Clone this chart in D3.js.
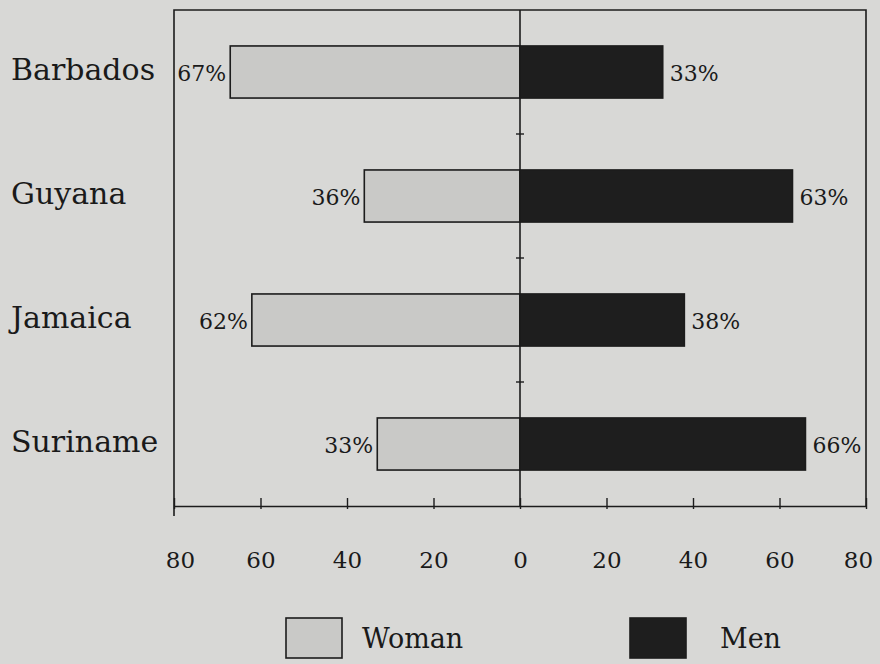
<!DOCTYPE html>
<html>
<head>
<meta charset="utf-8">
<script src="https://cdn.jsdelivr.net/npm/d3@7"></script>
<style>
  html, body { margin: 0; padding: 0; background: #d8d8d6; }
  svg { display: block; }
  text { font-family: "DejaVu Serif", serif; fill: #1a1a1a; }
</style>
</head>
<body>
<svg id="chart" width="880" height="664"></svg>
<script>
// Share of work by sex, per country (percent)
const countries = ["Barbados", "Guyana", "Jamaica", "Suriname"];
const womanValues = [67, 36, 62, 33];
const menValues = [33, 63, 38, 66];
const tickValues = [-80, -60, -40, -20, 0, 20, 40, 60, 80];
const seriesNames = ["Woman", "Men"];

const W = 880, H = 664;
const svg = d3.select("#chart");
const ink = "#1c1c1c";
const womanFill = "#c9c9c7";
const menFill = "#1e1e1e";

svg.append("rect").attr("width", W).attr("height", H).attr("fill", "#d8d8d6");

const plot = { left: 174, right: 866, top: 10, bottom: 506 };

const x = d3.scaleLinear().domain([-80, 80]).range([plot.left, plot.right]);
const y = d3.scaleBand().domain(countries).range([plot.top, plot.bottom]).paddingInner(0.58).paddingOuter(0.29);

const rows = countries.map((c, i) => ({ country: c, woman: womanValues[i], men: menValues[i] }));

// Frame: left, top, right
const frame = svg.append("g").attr("stroke", ink).attr("stroke-width", 1.6).attr("fill", "none");
frame.append("path").attr("d", `M${plot.left},${plot.bottom + 10}V${plot.top}H${plot.right}V${plot.bottom}`);

// Bars
const bars = svg.append("g");
bars.selectAll("rect.woman").data(rows).join("rect")
  .attr("class", "woman")
  .attr("x", d => x(-d.woman))
  .attr("y", d => y(d.country))
  .attr("width", d => x(0) - x(-d.woman))
  .attr("height", y.bandwidth())
  .attr("fill", womanFill).attr("stroke", ink).attr("stroke-width", 1.6);
bars.selectAll("rect.men").data(rows).join("rect")
  .attr("class", "men")
  .attr("x", x(0))
  .attr("y", d => y(d.country))
  .attr("width", d => x(d.men) - x(0))
  .attr("height", y.bandwidth())
  .attr("fill", menFill).attr("stroke", ink).attr("stroke-width", 1.6);

// Centre line with ticks between the countries
svg.append("line")
  .attr("x1", x(0)).attr("x2", x(0))
  .attr("y1", plot.top).attr("y2", plot.bottom)
  .attr("stroke", ink).attr("stroke-width", 1.6);
const between = countries.slice(1).map(c => y(c) - y.step() * y.paddingInner() / 2);
svg.append("g").selectAll("line").data(between).join("line")
  .attr("x1", x(0) - 4).attr("x2", x(0) + 4)
  .attr("y1", d => d).attr("y2", d => d)
  .attr("stroke", ink).attr("stroke-width", 1.4);

// Value labels
const labels = svg.append("g").attr("font-size", 22);
labels.selectAll("text.w").data(rows).join("text")
  .attr("x", d => x(-d.woman) - 4)
  .attr("y", d => y(d.country) + y.bandwidth() / 2 + 9)
  .attr("text-anchor", "end")
  .text(d => d.woman + "%");
labels.selectAll("text.m").data(rows).join("text")
  .attr("x", d => x(d.men) + 7)
  .attr("y", d => y(d.country) + y.bandwidth() / 2 + 9)
  .attr("text-anchor", "start")
  .text(d => d.men + "%");

// Country labels
svg.append("g").attr("font-size", 30).selectAll("text").data(countries).join("text")
  .attr("x", 11)
  .attr("y", d => y(d) + y.bandwidth() / 2 + 8)
  .text(d => d);

// Bottom axis: absolute values on both sides
const xAxis = d3.axisBottom(x)
  .tickValues(tickValues)
  .tickFormat(d => Math.abs(d))
  .tickSize(0)
  .tickPadding(46);
const ax = svg.append("g").attr("transform", `translate(0,${plot.bottom})`).call(xAxis);
ax.select(".domain").attr("stroke", ink).attr("stroke-width", 1.6);
ax.selectAll(".tick").append("line")
  .attr("y1", -8).attr("y2", 3)
  .attr("stroke", ink).attr("stroke-width", 1.4);
ax.selectAll(".tick text")
  .attr("font-family", "DejaVu Serif, serif")
  .attr("font-size", 23)
  .attr("fill", ink)
  .attr("dx", d => d === 80 ? -8 : (d === -80 ? 6 : 0));

// Legend
const legendItems = [
  { name: seriesNames[0], fill: womanFill, bx: 286, tx: 362 },
  { name: seriesNames[1], fill: menFill, bx: 630, tx: 720 }
];
const lg = svg.append("g");
lg.selectAll("rect").data(legendItems).join("rect")
  .attr("x", d => d.bx).attr("y", 618)
  .attr("width", 56).attr("height", 40)
  .attr("fill", d => d.fill).attr("stroke", ink).attr("stroke-width", 1.6);
lg.selectAll("text").data(legendItems).join("text")
  .attr("x", d => d.tx).attr("y", 648)
  .attr("font-size", 27)
  .text(d => d.name);
</script>
</body>
</html>
